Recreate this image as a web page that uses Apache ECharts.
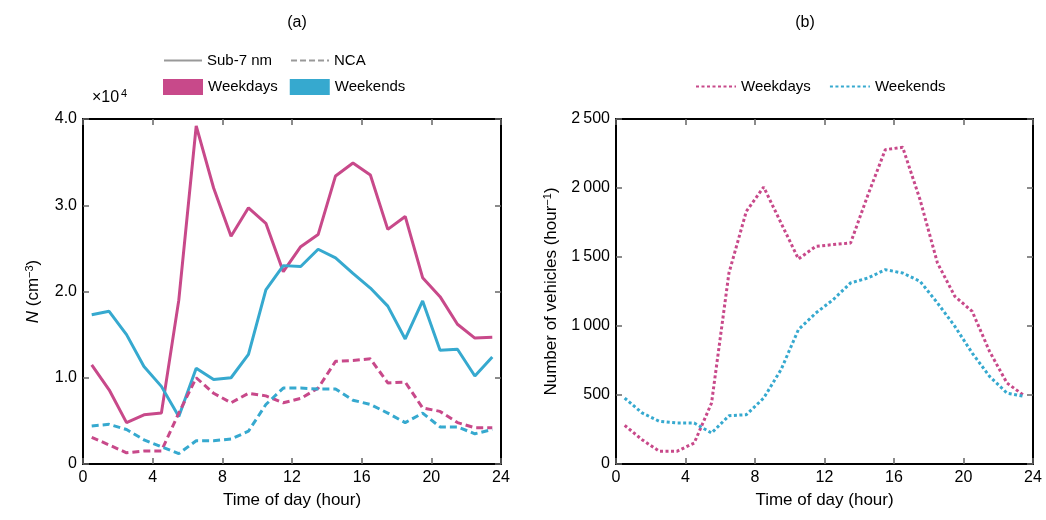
<!DOCTYPE html>
<html>
<head>
<meta charset="utf-8">
<script src="https://cdn.jsdelivr.net/npm/echarts@6/dist/echarts.min.js"></script>
<style>html,body{margin:0;padding:0;background:#fff}#c{width:1046px;height:520px}</style>
</head>
<body>
<div id="c"></div>
<script>
var hours = [0.5,1.5,2.5,3.5,4.5,5.5,6.5,7.5,8.5,9.5,10.5,11.5,12.5,13.5,14.5,15.5,16.5,17.5,18.5,19.5,20.5,21.5,22.5,23.5];
// panel a, x10^4 cm^-3
var sub7Weekdays = [1.15,0.86,0.48,0.57,0.59,1.9,3.92,3.2,2.64,2.97,2.79,2.23,2.52,2.66,3.34,3.49,3.35,2.72,2.87,2.16,1.94,1.62,1.46,1.47];
var sub7Weekends = [1.73,1.77,1.5,1.13,0.9,0.55,1.11,0.98,1.0,1.27,2.02,2.3,2.29,2.49,2.39,2.21,2.04,1.83,1.45,1.89,1.32,1.33,1.02,1.24];
var ncaWeekdays = [0.31,0.22,0.13,0.15,0.15,0.59,1.0,0.82,0.71,0.82,0.79,0.71,0.76,0.88,1.19,1.2,1.22,0.94,0.95,0.65,0.61,0.48,0.42,0.42];
var ncaWeekends = [0.44,0.46,0.40,0.28,0.2,0.12,0.27,0.27,0.29,0.38,0.69,0.88,0.88,0.87,0.87,0.74,0.69,0.59,0.48,0.59,0.43,0.43,0.35,0.4];
// panel b, vehicles per hour
var vehWeekdays = [280,176,92,92,152,442,1384,1831,2007,1746,1486,1577,1590,1601,1950,2278,2295,1915,1457,1215,1106,816,587,495];
var vehWeekends = [478,370,309,297,297,225,350,357,478,684,974,1094,1191,1312,1348,1408,1384,1324,1167,998,804,635,514,490];

var pink = '#c8498a', blue = '#36a9cf';
var font = 'Liberation Sans';

function pairs(ys, scale) {
    return hours.map(function(h, i) { return [h, ys[i] * scale]; });
}
function thin(v) { return String(v).replace(/\B(?=(\d{3})+(?!\d))/g, '\u2009'); }

var grids = [
    { left: 83, right: 545, top: 119, bottom: 56 },
    { left: 616, right: 13, top: 119, bottom: 56 }
];
function xAx(g, show) {
    return {
        type: 'value', gridIndex: g, min: 0, max: 24, interval: 4,
        position: show ? 'bottom' : 'top',
        name: show ? 'Time of day (hour)' : '', nameLocation: 'middle', nameGap: 28,
        nameTextStyle: { fontSize: 17, color: '#000', fontFamily: font },
        axisLine: { show: true, onZero: false, lineStyle: { color: '#000', width: 2 } },
        axisTick: { show: true, inside: true, length: 6, lineStyle: { color: '#666', width: 1.5 } },
        axisLabel: { show: show, fontSize: 16, color: '#000', fontFamily: font, margin: 6 },
        splitLine: { show: false }
    };
}
function yAx(g, show, opt) {
    var a = {
        type: 'value', gridIndex: g, min: 0,
        position: show ? 'left' : 'right',
        axisLine: { show: true, onZero: false, lineStyle: { color: '#000', width: 2 } },
        axisTick: { show: true, inside: true, length: 6, lineStyle: { color: '#666', width: 1.5 } },
        axisLabel: { show: show, fontSize: 16, color: '#000', fontFamily: font, margin: 6 },
        splitLine: { show: false }
    };
    for (var k in opt) a[k] = opt[k];
    return a;
}
var legText = { fontSize: 15, fontFamily: font, color: '#000' };

var option = {
    animation: false,
    title: [
        { text: '(a)', left: 292, top: 10, textAlign: 'center', textStyle: { fontSize: 16, fontWeight: 'normal', fontFamily: font, color: '#000' } },
        { text: '(b)', left: 800, top: 10, textAlign: 'center', textStyle: { fontSize: 16, fontWeight: 'normal', fontFamily: font, color: '#000' } }
    ],
    legend: [
        { data: ['Sub-7 nm', 'NCA'], left: 158, top: 48, itemWidth: 38, itemHeight: 10, itemGap: 18,
          itemStyle: { opacity: 0 }, textStyle: legText },
        { data: [{ name: 'Weekdays', icon: 'rect' }, { name: 'Weekends', icon: 'rect' }], left: 158, top: 74, itemWidth: 40, itemHeight: 16, itemGap: 12,
          textStyle: legText },
        { data: ['Weekdays ', 'Weekends '], left: 690, top: 74, itemWidth: 40, itemHeight: 10, itemGap: 14,
          itemStyle: { opacity: 0 }, textStyle: legText }
    ],
    graphic: [
        { type: 'text', left: 92, top: 90, style: { text: '\u00d710', fontSize: 16, fontFamily: font, fill: '#000' } },
        { type: 'text', left: 121, top: 88, style: { text: '4', fontSize: 11, fontFamily: font, fill: '#000' } }
    ],
    grid: grids,
    xAxis: [xAx(0, true), xAx(0, false), xAx(1, true), xAx(1, false)],
    yAxis: [
        yAx(0, true, { max: 40000, interval: 10000,
            name: '{i|N} (cm{s|\u22123})', nameLocation: 'middle', nameGap: 40,
            nameTextStyle: { fontSize: 17, color: '#000', fontFamily: font, rich: { i: { fontStyle: 'italic', fontSize: 17, fontFamily: font }, s: { fontSize: 11, verticalAlign: 'top', padding: [0, 0, 8, 0], fontFamily: font } } },
            axisLabel: { fontSize: 16, color: '#000', fontFamily: font, margin: 6, formatter: function(v) { return v === 0 ? '0' : (v / 10000).toFixed(1); } } }),
        yAx(0, false, { max: 40000, interval: 10000 }),
        yAx(1, true, { max: 2500, interval: 500,
            name: 'Number of vehicles (hour{s|\u22121})', nameLocation: 'middle', nameGap: 55,
            nameTextStyle: { fontSize: 17, color: '#000', fontFamily: font, rich: { s: { fontSize: 11, verticalAlign: 'top', padding: [0, 0, 8, 0], fontFamily: font } } },
            axisLabel: { fontSize: 16, color: '#000', fontFamily: font, margin: 6, formatter: thin } }),
        yAx(1, false, { max: 2500, interval: 500 })
    ],
    series: [
        { name: 'Sub-7 nm', type: 'line', data: [], itemStyle: { color: '#999' }, lineStyle: { color: '#999', width: 3 }, symbol: 'none' },
        { name: 'NCA', type: 'line', data: [], itemStyle: { color: '#999' }, lineStyle: { color: '#999', width: 3, type: [6, 3] }, symbol: 'none' },
        { name: 'Weekdays', type: 'line', xAxisIndex: 0, yAxisIndex: 0, data: pairs(sub7Weekdays, 10000), symbol: 'none', itemStyle: { color: pink }, lineStyle: { color: pink, width: 3 } },
        { name: 'Weekends', type: 'line', xAxisIndex: 0, yAxisIndex: 0, data: pairs(sub7Weekends, 10000), symbol: 'none', itemStyle: { color: blue }, lineStyle: { color: blue, width: 3 } },
        { name: 'nca-wd', type: 'line', xAxisIndex: 0, yAxisIndex: 0, data: pairs(ncaWeekdays, 10000), symbol: 'none', lineStyle: { color: pink, width: 3, type: [7, 4] } },
        { name: 'nca-we', type: 'line', xAxisIndex: 0, yAxisIndex: 0, data: pairs(ncaWeekends, 10000), symbol: 'none', lineStyle: { color: blue, width: 3, type: [7, 4] } },
        { name: 'Weekdays ', type: 'line', xAxisIndex: 2, yAxisIndex: 2, data: pairs(vehWeekdays, 1), symbol: 'none', itemStyle: { color: pink }, lineStyle: { color: pink, width: 3, type: [3, 2.5] } },
        { name: 'Weekends ', type: 'line', xAxisIndex: 2, yAxisIndex: 2, data: pairs(vehWeekends, 1), symbol: 'none', itemStyle: { color: blue }, lineStyle: { color: blue, width: 3, type: [3, 2.5] } }
    ]
};
echarts.init(document.getElementById('c')).setOption(option);
</script>
</body>
</html>
